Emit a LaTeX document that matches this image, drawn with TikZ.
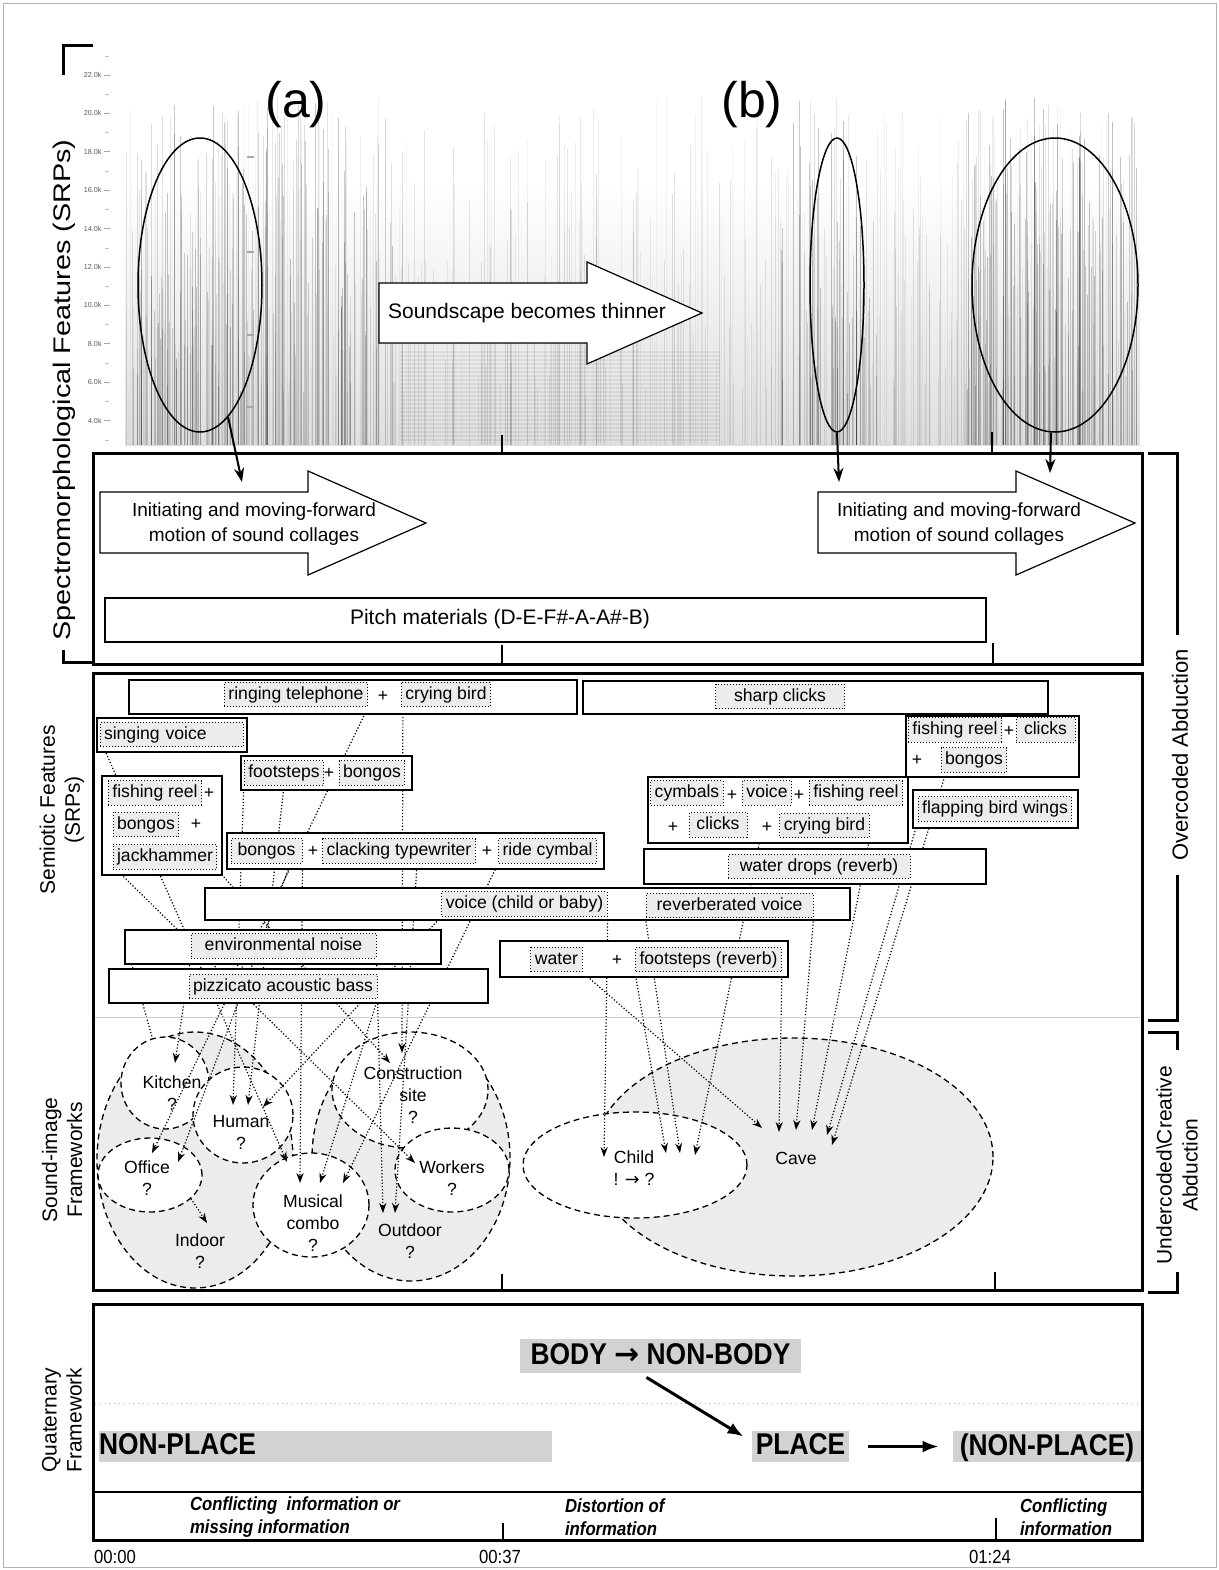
\documentclass[tikz,border=0pt]{standalone}
\usepackage{fontspec}
\setmainfont{Liberation Sans}
\newfontfamily\symfont{DejaVu Sans}
\newfontfamily\condfont[FakeStretch=0.88]{Liberation Sans}
\newfontfamily\widefont[FakeStretch=1.2]{Liberation Sans}
\usetikzlibrary{arrows.meta,shapes.geometric}
\pgfdeclarelayer{bg}
\pgfdeclarelayer{lines}
\pgfsetlayers{bg,lines,main}

\begin{document}
\begin{tikzpicture}[x=0.5pt, y=-0.5pt,
  panel/.style={line width=1.5pt},
  box/.style={draw, line width=0.75pt, fill=white},
  snd/.style={draw, densely dotted, line width=0.5pt, fill=gray!15, inner sep=2pt,
    text height=6.5pt, text depth=1.8pt, font=\fontsize{8.8}{10}\selectfont},
  plus/.style={font=\fontsize{8.8}{10}\selectfont, inner sep=0pt},
  lnk/.style={densely dotted, line width=0.6pt, -{Stealth[length=5pt,width=3.6pt]}},
  fw/.style={ellipse, draw, dash pattern=on 3pt off 2pt, line width=0.65pt, fill=white, inner sep=0pt},
  fwbig/.style={fw, fill=gray!15},
  fwtxt/.style={font=\fontsize{8.8}{11}\selectfont, align=center},
  ring/.style={ellipse, draw, line width=0.75pt, inner sep=0pt},
  pick/.style={line width=1pt, -{Stealth[length=7pt,width=5pt]}},
  bigarr/.style={draw, line width=0.6pt, fill=white},
  quat/.style={fill=gray!35, inner sep=0pt, minimum height=15.5pt, text depth=2pt,
    font=\condfont\fontsize{15}{17}\selectfont\bfseries},
  fat/.style={line width=1.5pt, -{Latex[length=8pt,width=6pt]}},
  note/.style={anchor=west, align=left, font=\condfont\fontsize{9.5}{11.5}\selectfont\bfseries\itshape},
  side/.style={rotate=90, align=center, font=\fontsize{10.5}{12.5}\selectfont},
  brk/.style={line width=1.5pt},
  tick/.style={line width=1.2pt}]
  \useasboundingbox (0,0) rectangle (1219,1570);
  \draw[gray!60, line width=0.4pt] (3,3) rectangle (1216,1567);

  % spectrogram backdrop
  \begin{pgfonlayer}{bg}
  \shade[top color=white, bottom color=gray!25] (125,180) rectangle (1140,445);
  \pgfmathsetseed{7}
  \foreach \xa/\xb/\n/\op in {125/395/300/0.2, 395/780/160/0.09, 780/880/90/0.22, 880/965/50/0.09, 965/1140/220/0.22}{
    \foreach \k in {1,...,\n}{
      \pgfmathsetmacro\xx{\xa+rnd*(\xb-\xa)}
      \pgfmathsetmacro\yy{95+rnd*300}
      \pgfmathsetmacro\oo{0.03+\op*rnd}
      \pgfmathsetmacro\ww{0.15+0.4*rnd}
      \draw[line width=\ww pt, black, opacity=\oo] (\xx,\yy) -- (\xx,445);
    }
  }
  \foreach \yy in {352,356,...,440}
    \draw[line width=0.6pt, black, opacity=0.06] (400,\yy) -- (720,\yy);
  \foreach \yy in {157,252,335,407}
    \fill[gray!70] (247,\yy-1) rectangle (254,\yy+1);

  % sound-image frameworks
  \node[fwbig, minimum width=98pt, minimum height=128pt] (indoor) at (195,1160) {};
  \node[fwbig, minimum width=99pt, minimum height=123pt] (outdoor) at (411,1158) {};
  \node[fwbig, minimum width=200pt, minimum height=119pt] (cave) at (793,1157) {};
  \node[fw, minimum width=44pt, minimum height=46pt] (kitchen) at (165,1083) {};
  \node[fw, minimum width=50pt, minimum height=48pt] (human) at (243,1115) {};
  \node[fw, minimum width=52pt, minimum height=37pt] (office) at (150,1175) {};
  \node[fw, minimum width=58pt, minimum height=52pt] (musical) at (311,1205) {};
  \node[fw, minimum width=78pt, minimum height=58pt] (constr) at (410,1090) {};
  \node[fw, minimum width=57pt, minimum height=42pt] (workers) at (452,1170) {};
  \node[fw, minimum width=112pt, minimum height=53pt] (child) at (635,1165) {};
  \end{pgfonlayer}

  % frequency axis
  \foreach \v [count=\k from 0] in {22.0k,20.0k,18.0k,16.0k,14.0k,12.0k,10.0k,8.0k,6.0k,4.0k}{
    \node[anchor=east, font=\fontsize{3.6}{4}\selectfont, text=gray!70!black, inner sep=0.5pt] at (103,75+38.4*\k) {\v};
    \draw[gray!70, line width=0.4pt] (104,75+38.4*\k) -- (110,75+38.4*\k);
    \draw[gray!50, line width=0.3pt] (105,94.2+38.4*\k) -- (109,94.2+38.4*\k);
  }
  \draw[gray!50, line width=0.3pt] (105,56) -- (109,56);

  % circled regions of the spectrogram
  \node[ring, minimum width=62pt, minimum height=147pt] (ea) at (200,285) {};
  \node[ring, minimum width=27pt, minimum height=147pt] (eb) at (837,285) {};
  \node[ring, minimum width=83pt, minimum height=147pt] (ec) at (1055,285) {};
  \node[font=\fontsize{25}{28}\selectfont] (la) at (296,105) {(a)};
  \node[font=\fontsize{25}{28}\selectfont] (lb) at (752,105) {(b)};
  \draw[bigarr] (379,283) -- (587,283) -- (587,262) -- (702,313) -- (587,364) -- (587,343) -- (379,343) -- cycle;
  \node[font=\fontsize{10.5}{12}\selectfont] (thin) at (527,313) {Soundscape becomes thinner};
  \draw[tick] (502,435) -- (502,455);
  \draw[tick] (992,432) -- (992,455);
  \coordinate (pa) at (242,482);
  \coordinate (pb) at (839,482);
  \coordinate (pc) at (1050,473);
  \draw[pick] (ea.-78) -- (pa);
  \draw[pick] (eb.south) -- (pb);
  \draw[pick] ([xshift=-2pt]ec.south) -- (pc);

  % SRP panel
  \draw[bigarr] (100,492) -- (308,492) -- (308,471) -- (426,523) -- (308,575) -- (308,553) -- (100,553) -- cycle;
  \node[align=center, font=\fontsize{9.5}{12.5}\selectfont] (mov1) at (254,524) {Initiating and moving-forward\\motion of sound collages};
  \draw[bigarr] (818,492) -- (1016,492) -- (1016,471) -- (1135,523) -- (1016,575) -- (1016,553) -- (818,553) -- cycle;
  \node[align=center, font=\fontsize{9.5}{12.5}\selectfont] (mov2) at (959,524) {Initiating and moving-forward\\motion of sound collages};
  \draw[box] (105,598) rectangle (986,642);
  \node[font=\fontsize{10.5}{12}\selectfont] (pitch) at (500,619) {Pitch materials (D-E-F\#-A-A\#-B)};
  \draw[tick] (502,645) -- (502,663);
  \draw[tick] (993,643) -- (993,663);
  \draw[panel] (93,453) rectangle (1142,664);

  % semiotic features
  \draw[box] (129,680) rectangle (577,714);
  \node[snd] (rt) at (296,694.5) {ringing telephone};
  \node[plus] at (383,696) {+};
  \node[snd] (cb1) at (446,694.5) {crying bird};
  \draw[box] (583,681) rectangle (1048,714);
  \node[snd, minimum width=64.5pt] (sc) at (780,696.5) {sharp clicks};
  \draw[box] (97,718) rectangle (247,752);
  \node[snd, text width=67.5pt, align=left] (sv) at (171.5,734.5) {singing voice};
  \draw[box] (241,756) rectangle (412,790);
  \node[snd] (fs) at (284,773) {footsteps};
  \node[plus] at (329,773) {+};
  \node[snd] (bg1) at (372,773) {bongos};
  \draw[box] (102,776) rectangle (222,875);
  \node[snd] (fr1) at (155,793) {fishing reel};
  \node[plus] at (209,793) {+};
  \node[snd] (bg2) at (146,824.5) {bongos};
  \node[plus] at (196,824) {+};
  \node[snd] (jh) at (165,857) {jackhammer};
  \draw[box] (227,833) rectangle (604,869);
  \node[snd, minimum width=35.5pt] (bgc) at (266.5,851) {bongos};
  \node[plus] at (313,851) {+};
  \node[snd] (ct) at (399,851) {clacking typewriter};
  \node[plus] at (487,851) {+};
  \node[snd] (rc) at (547.5,851) {ride cymbal};
  \draw[box] (205,888) rectangle (850,920);
  \node[snd] (vc) at (524.5,904) {voice (child or baby)};
  \node[snd, minimum width=83.5pt] (rv) at (729.5,905.5) {reverberated voice};
  \draw[box] (125,930) rectangle (441,964);
  \node[snd, minimum width=92.5pt] (en) at (283.5,946) {environmental noise};
  \draw[box] (109,969) rectangle (488,1003);
  \node[snd] (pz) at (283,986.5) {pizzicato acoustic bass};
  \draw[box] (500,941) rectangle (788,977);
  \node[snd] (wt) at (556.5,959.5) {water};
  \node[plus] at (617,960) {+};
  \node[snd] (fsr) at (708.5,959.5) {footsteps (reverb)};
  \draw[box] (906,716) rectangle (1079,777);
  \node[snd] (fr2) at (955,730) {fishing reel};
  \node[plus] at (1009,731) {+};
  \node[snd, minimum width=29.5pt] (ck1) at (1045.5,730) {clicks};
  \node[plus] at (917,760) {+};
  \node[snd] (bg3) at (974,760) {bongos};
  \draw[box] (648,777) rectangle (908,843);
  \node[snd] (cy) at (687,793) {cymbals};
  \node[plus] at (732,795) {+};
  \node[snd] (vo) at (767,793) {voice};
  \node[plus] at (799,795) {+};
  \node[snd] (fr3) at (856,793) {fishing reel};
  \node[plus] at (673,827) {+};
  \node[snd, minimum width=29pt] (ck2) at (718,825) {clicks};
  \node[plus] at (767,827) {+};
  \node[snd] (cb2) at (824.5,825.5) {crying bird};
  \draw[box] (913,790) rectangle (1078,828);
  \node[snd] (fbw) at (995,809) {flapping bird wings};
  \draw[box] (644,849) rectangle (986,884);
  \node[snd, minimum width=91pt] (wd) at (819,866.5) {water drops (reverb)};

  % framework labels
  \node[fwtxt] (tkit) at (172,1093) {Kitchen\\?};
  \node[fwtxt] (thum) at (241,1132) {Human\\?};
  \node[fwtxt] (toff) at (147,1178) {Office\\?};
  \node[fwtxt] (tind) at (200,1251) {Indoor\\?};
  \node[fwtxt] (tmus) at (313,1223) {Musical\\combo\\?};
  \node[fwtxt] (tout) at (410,1241) {Outdoor\\?};
  \node[fwtxt] (tcon) at (413,1095) {Construction\\site\\?};
  \node[fwtxt] (twrk) at (452,1178) {Workers\\?};
  \node[fwtxt] (tchd) at (634,1168) {Child\\! {\symfont →} ?};
  \node[fwtxt] (tcav) at (796,1158) {Cave};

  % arrow ends inside the frameworks
  \coordinate (kit1) at (175,1063);
  \coordinate (hum1) at (233,1105);
  \coordinate (hum2) at (248,1105);
  \coordinate (hum3) at (263,1107);
  \coordinate (off1) at (152,1153);
  \coordinate (off2) at (178,1162);
  \coordinate (ind1) at (207,1223);
  \coordinate (mus1) at (287,1162);
  \coordinate (mus2) at (300,1183);
  \coordinate (mus3) at (320,1183);
  \coordinate (mus4) at (343,1183);
  \coordinate (con1) at (390,1063);
  \coordinate (con2) at (402,1053);
  \coordinate (wrk1) at (415,1163);
  \coordinate (out1) at (383,1213);
  \coordinate (out2) at (395,1213);
  \coordinate (chd1) at (604,1157);
  \coordinate (chd2) at (666,1153);
  \coordinate (chd3) at (680,1153);
  \coordinate (chd4) at (695,1155);
  \coordinate (cav1) at (762,1128);
  \coordinate (cav2) at (779,1132);
  \coordinate (cav3) at (796,1130);
  \coordinate (cav4) at (812,1130);
  \coordinate (cav5) at (827,1135);
  \coordinate (cav6) at (832,1145);
  \coordinate (enl) at (130,958);
  \coordinate (indtop) at (152,1037);

  \begin{pgfonlayer}{lines}
  \draw[lnk] (rt.south east) -- (off1);
  \draw[lnk] ([xshift=1pt]cb1.south west) -- (con2);
  \draw[lnk] ([xshift=2pt]sv.south west) -- (mus1);
  \draw[lnk] (fs.south west) -- (hum1);
  \draw[lnk] (fs.south) -- (hum2);
  \draw[lnk] (vc.south west) -- (hum3);
  \draw[lnk] ([xshift=2pt]jh.south west) -- (wrk1);
  \draw[lnk] (jh.south east) -- (con1);
  \draw[lnk] ([xshift=-6pt]bgc.south east) -- (off2);
  \draw[lnk] (bgc.south east) -- (mus2);
  \draw[lnk] (rc.south west) -- (mus4);
  \draw[lnk] (pz.south east) -- (mus3);
  \draw[lnk] (en.south west) -- (kit1);
  \draw[lnk] (en.south east) -- (out1);
  \draw[lnk] ([xshift=9pt]ct.south) -- (out2);
  \draw[lnk] (office.-30) -- (ind1);
  \draw[densely dotted, line width=0.6pt] (enl) -- (indtop);
  \draw[lnk] (vc.south east) -- (chd1);
  \draw[lnk] (fsr.south west) -- (chd2);
  \draw[lnk] (rv.south west) -- (chd3);
  \draw[lnk] (vo.south) -- (chd4);
  \draw[lnk] (wt.south east) -- (cav1);
  \draw[lnk] (fsr.south east) -- (cav2);
  \draw[lnk] (rv.south east) -- (cav3);
  \draw[lnk] (cb2.south east) -- (cav4);
  \draw[lnk] (fbw.south west) -- (cav5);
  \draw[lnk] (fr2.south) -- (cav6);
  \end{pgfonlayer}

  \draw[gray!40, line width=0.5pt] (95,1017) -- (1140,1017);
  \draw[tick] (502,1274) -- (502,1290);
  \draw[tick] (995,1272) -- (995,1290);
  \draw[panel] (93,673) rectangle (1142,1290);

  % quaternary framework
  \draw[gray!60, dotted, line width=0.4pt] (95,1403) -- (1140,1403);
  \node[quat, minimum width=226.5pt, text width=226.5pt, align=left] (np1) at (325.5,1446.5) {NON-PLACE};
  \node[quat, minimum width=140.5pt, minimum height=17pt] (bnb) at (660.5,1356) {BODY {\symfont\bfseries →} NON-BODY};
  \node[quat, minimum width=48.5pt] (pl) at (800.5,1446.5) {PLACE};
  \node[quat, minimum width=94pt] (np2) at (1047,1446.5) {(NON-PLACE)};
  \draw[fat] ([xshift=-7pt,yshift=-2pt]bnb.south) -- ([xshift=-4pt,yshift=-3pt]pl.north west);
  \draw[fat] ([xshift=9.5pt]pl.east) -- ([xshift=-7pt]np2.west);
  \draw[line width=0.6pt] (93,1492) -- (1142,1492);
  \node[note] (n1) at (183,1517.5) {Conflicting\ \ information or\\missing information};
  \node[note] (n2) at (558,1517.5) {Distortion of\\information};
  \node[note] (n3) at (1013,1517.5) {Conflicting\\information};
  \draw[tick] (503,1523) -- (503,1540);
  \draw[tick] (996,1518) -- (996,1540);
  \draw[panel] (93,1304) rectangle (1142,1540);
  \node[font=\condfont\fontsize{9.5}{11}\selectfont] (t0) at (115,1557) {00:00};
  \node[font=\condfont\fontsize{9.5}{11}\selectfont] (t1) at (500,1557) {00:37};
  \node[font=\condfont\fontsize{9.5}{11}\selectfont] (t2) at (990,1557) {01:24};

  % side labels and brackets
  \draw[brk] (93,45) -- (63,45) -- (63,75);
  \draw[brk] (63,650) -- (63,662) -- (93,662);
  \node[rotate=90, font=\widefont\fontsize{12}{14}\selectfont] (srp) at (64,390) {Spectromorphological Features (SRPs)};
  \node[side] (sem) at (62,810) {Semiotic Features\\(SRPs)};
  \node[side] (sim) at (62,1160) {Sound-image\\Frameworks};
  \node[side] (qua) at (62,1420) {Quaternary\\Framework};
  \draw[brk] (1148,453) -- (1177,453) -- (1177,635);
  \draw[brk] (1177,875) -- (1177,1020) -- (1148,1020);
  \node[rotate=90, font=\fontsize{11}{13}\selectfont] (oa) at (1180,755) {Overcoded Abduction};
  \draw[brk] (1148,1032) -- (1177,1032) -- (1177,1050);
  \draw[brk] (1177,1272) -- (1177,1292) -- (1148,1292);
  \node[rotate=90, align=center, font=\fontsize{10.5}{13}\selectfont] (ua) at (1177,1165) {Undercoded\textbackslash Creative\\Abduction};
\end{tikzpicture}
\end{document}
